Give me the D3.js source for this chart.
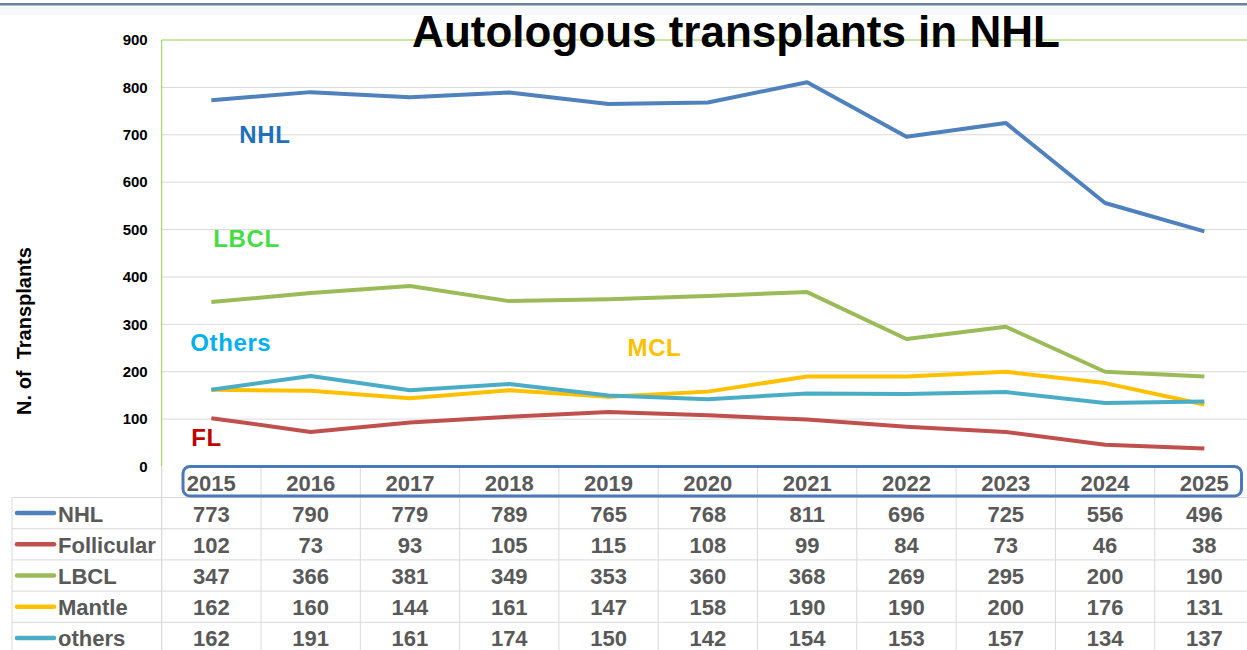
<!DOCTYPE html>
<html>
<head>
<meta charset="utf-8">
<script src="https://cdn.jsdelivr.net/npm/d3@7"></script>
<style>
  html, body { margin: 0; padding: 0; background: #ffffff; }
  svg { display: block; font-family: "Liberation Sans", Arial, sans-serif; }
</style>
</head>
<body>
<svg id="chart" width="1247" height="650"></svg>
<script>
// ---- data ----
const years = ["2015","2016","2017","2018","2019","2020","2021","2022","2023","2024","2025"];
const seriesNames = ["NHL","Follicular","LBCL","Mantle","others"];
const nhl        = [773,790,779,789,765,768,811,696,725,556,496];
const follicular = [102,73,93,105,115,108,99,84,73,46,38];
const lbcl       = [347,366,381,349,353,360,368,269,295,200,190];
const mantle     = [162,160,144,161,147,158,190,190,200,176,131];
const others     = [162,191,161,174,150,142,154,153,157,134,137];
const yTicks     = [0,100,200,300,400,500,600,700,800,900];
const seriesColors = ["#4f81bd","#c0504d","#9bbb59","#ffc000","#4bacc6"];
const inlineLabels = [
  {text:"NHL",    year:"2015", value:700, dx:28,  color:"#1f6fbf"},
  {text:"LBCL",   year:"2015", value:480, dx:2,   color:"#44dd44"},
  {text:"Others", year:"2015", value:260, dx:-21, color:"#00b0f0"},
  {text:"MCL",    year:"2019", value:250, dx:19,  color:"#ffc000"},
  {text:"FL",     year:"2015", value:60,  dx:-20, color:"#c00000"}
];
const title = "Autologous transplants in NHL";
const yTitle = "N. of  Transplants";

const seriesValues = [nhl, follicular, lbcl, mantle, others];

// ---- layout ----
const W = 1247, H = 650;
const plotL = 161.7, colW = 99.3;
const plotR = plotL + colW * years.length;
const plotT = 40, plotB = 466.5;
const rowH = 31.2;
const tableTop = plotB + 31;   // first data row top
const tableLeft = 12;

const svg = d3.select("#chart");

const x = d3.scaleBand().domain(years).range([plotL, plotR]).padding(0);
const xc = d => x(d) + x.bandwidth() / 2;
const y = d3.scaleLinear().domain([0, 900]).range([plotB, plotT]);

// top border
svg.append("rect").attr("x",0).attr("y",7).attr("width",W).attr("height",8).attr("fill","#f6f9fb");
svg.append("rect").attr("x",0).attr("y",3).attr("width",W).attr("height",2.5).attr("fill","#6a8399");

// gridlines
svg.append("g").selectAll("line").data(yTicks.filter(t => t > 0 && t < 900)).join("line")
  .attr("x1", plotL).attr("x2", W)
  .attr("y1", d => y(d)).attr("y2", d => y(d))
  .attr("stroke", "#d9d9d9").attr("stroke-width", 1);

// plot border (green)
svg.append("line").attr("x1", plotL).attr("x2", W).attr("y1", y(900)).attr("y2", y(900))
  .attr("stroke", "#92d050").attr("stroke-width", 1);
svg.append("line").attr("x1", plotL).attr("x2", plotL).attr("y1", y(900)).attr("y2", plotB)
  .attr("stroke", "#92d050").attr("stroke-width", 1);

// y axis labels
const yAxis = d3.axisLeft(y).tickValues(yTicks).tickSize(0).tickPadding(14);
const yg = svg.append("g").attr("transform", `translate(${plotL},0)`).call(yAxis);
yg.select(".domain").remove();
yg.selectAll("text")
  .attr("font-family", "'Liberation Sans', Arial, sans-serif")
  .attr("font-size", 15).attr("font-weight", "bold").attr("fill", "#000");

// y title
svg.append("text")
  .attr("transform", "translate(31,331) rotate(-90)")
  .attr("text-anchor", "middle")
  .attr("font-size", 20).attr("font-weight", "bold").attr("fill", "#000")
  .attr("xml:space", "preserve")
  .style("white-space", "pre")
  .text(yTitle);

// table grid
const tg = svg.append("g").attr("stroke", "#d9d9d9").attr("stroke-width", 1);
// header row vertical separators
years.forEach((yr, i) => {
  const xx = x(yr);
  tg.append("line").attr("x1", xx).attr("x2", xx).attr("y1", plotB).attr("y2", H);
});
tg.append("line").attr("x1", plotL).attr("x2", plotL).attr("y1", plotB).attr("y2", H);
tg.append("line").attr("x1", tableLeft).attr("x2", tableLeft).attr("y1", tableTop).attr("y2", H);
for (let r = 0; r <= seriesNames.length; r++) {
  const yy = tableTop + r * rowH;
  tg.append("line").attr("x1", tableLeft).attr("x2", W).attr("y1", yy).attr("y2", yy);
}

// year header text
svg.append("g").selectAll("text").data(years).join("text")
  .attr("x", d => xc(d)).attr("y", plotB + 24)
  .attr("text-anchor", "middle")
  .attr("font-size", 22).attr("font-weight", "bold").attr("fill", "#595959")
  .text(d => d);

// rounded blue box around the years
svg.append("rect")
  .attr("x", 183).attr("y", plotB).attr("width", 1058.5).attr("height", 29.5)
  .attr("rx", 7).attr("ry", 7)
  .attr("fill", "none").attr("stroke", "#4a78b8").attr("stroke-width", 3);

// table rows
seriesNames.forEach((name, r) => {
  const top = tableTop + r * rowH;
  const g = svg.append("g");
  g.append("line").attr("x1", 17).attr("x2", 54)
    .attr("y1", top + rowH / 2).attr("y2", top + rowH / 2)
    .attr("stroke", seriesColors[r]).attr("stroke-width", 4.5).attr("stroke-linecap", "round");
  g.append("text").attr("x", 58).attr("y", top + 24)
    .attr("font-size", 22).attr("font-weight", "bold").attr("fill", "#595959")
    .text(name);
  g.selectAll("text.v").data(seriesValues[r]).join("text").attr("class", "v")
    .attr("x", (d, i) => xc(years[i])).attr("y", top + 24)
    .attr("text-anchor", "middle")
    .attr("font-size", 22).attr("font-weight", "bold").attr("fill", "#595959")
    .text(d => d);
});

// series lines
const line = d3.line().x((d, i) => xc(years[i])).y(d => y(d));
seriesValues.forEach((vals, i) => {
  svg.append("path").datum(vals)
    .attr("d", line)
    .attr("fill", "none")
    .attr("stroke", seriesColors[i])
    .attr("stroke-width", 4)
    .attr("stroke-linejoin", "round")
    .attr("stroke-linecap", "butt");
});

// inline labels
svg.append("g").selectAll("text").data(inlineLabels).join("text")
  .attr("x", d => xc(d.year) + d.dx)
  .attr("y", d => y(d.value) + 8)
  .attr("font-size", 24).attr("font-weight", "bold")
  .attr("letter-spacing", 0.6)
  .attr("fill", d => d.color)
  .text(d => d.text);

// title
svg.append("text")
  .attr("x", 736).attr("y", 47)
  .attr("text-anchor", "middle")
  .attr("font-size", 44).attr("font-weight", "bold").attr("fill", "#000")
  .text(title);
</script>
</body>
</html>
